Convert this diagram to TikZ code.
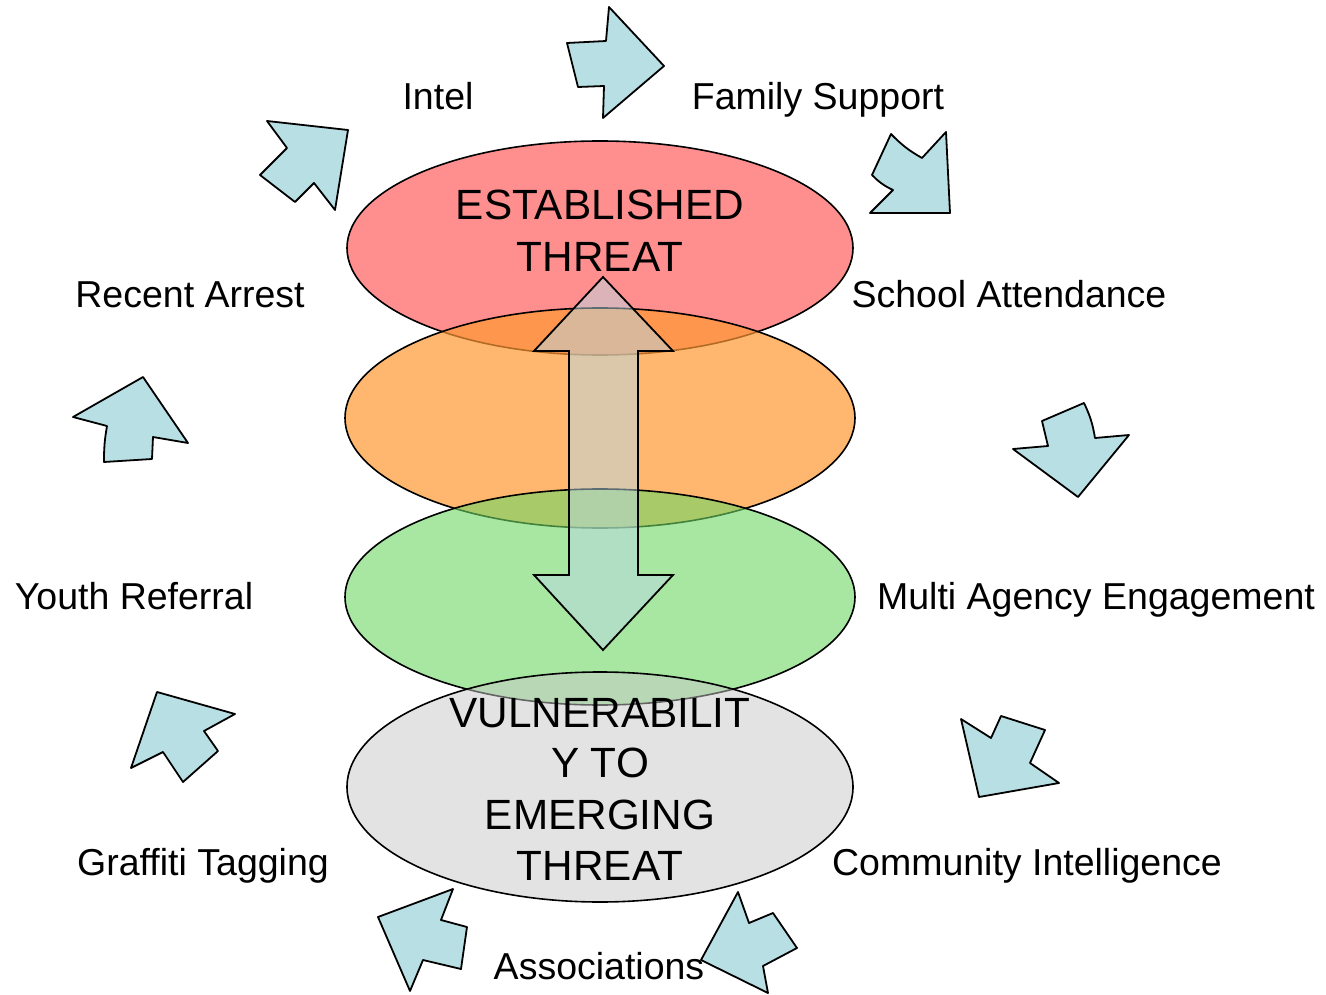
\documentclass[tikz,border=0pt]{standalone}
\usepackage{fontspec}
\setmainfont{Liberation Sans}
\usetikzlibrary{shapes.geometric}
\definecolor{redfill}{RGB}{255,143,143}
\definecolor{orangefill}{RGB}{255,153,51}
\definecolor{greenfill}{RGB}{110,215,100}
\definecolor{grayfill}{RGB}{200,200,200}
\definecolor{bigarrow}{RGB}{185,216,228}
\definecolor{cyclearrow}{RGB}{184,224,228}
\tikzset{
  layer/.style={ellipse, draw=black, line width=1.6pt, minimum width=506pt, minimum height=214pt, inner sep=0pt},
  label/.style={font=\fontsize{37.5}{44}\selectfont, anchor=base, inner sep=0pt},
  title/.style={font=\fontsize{42.3}{52}\selectfont, anchor=base, inner sep=0pt},
  cyc/.style={fill=cyclearrow, draw=black, line width=1.8pt, line join=round},
  dbl/.style={fill=bigarrow, fill opacity=0.5, draw=black, line width=1.8pt, line join=miter}
}
\begin{document}
\begin{tikzpicture}[x=1pt,y=-1pt]
\useasboundingbox (0,0) rectangle (1326,995);
% layers
\node[layer, fill=redfill] (red) at (600,248) {};
\node[layer, fill=orangefill, fill opacity=0.7, minimum width=510pt, minimum height=220pt] (orange) at (600,418) {};
\node[layer, fill=greenfill, fill opacity=0.6, minimum width=510pt, minimum height=216pt] (green) at (600,597) {};
\node[layer, fill=grayfill, fill opacity=0.5, minimum height=230pt] (gray) at (600,787) {};
% double arrow
\draw[dbl] (603,277) -- (673,351) -- (638,351) -- (638,575) -- (673,575) -- (603,650)
  -- (534,575) -- (569,575) -- (569,351) -- (534,351) -- cycle;
% cycle arrows
\draw[cyc] (567,43) -- (606,41) -- (609,7) -- (664,66) -- (603,118) -- (604,86) -- (578,87) -- cycle;
\draw[cyc] (891,134) to[bend right=8] (922,158) -- (946,132) -- (950,213) -- (870,213) -- (893,190) to[bend left=10] (872,175) -- cycle;
\draw[cyc] (1042,421) -- (1084,403) to[bend left=8] (1095,438) -- (1129,435) -- (1078,497) -- (1013,449) -- (1048,446) -- cycle;
\draw[cyc] (961,719) -- (991,738) -- (1001,716) -- (1045,730) -- (1030,763) -- (1059,783) -- (979,797) -- cycle;
\draw[cyc] (738,892) -- (749,923) -- (773,913) -- (797,948) -- (763,966) -- (768,993) -- (701,960) -- cycle;
\draw[cyc] (453,889) -- (441,920) -- (467,927) -- (461,969) -- (423,960) -- (410,991) -- (378,917) -- cycle;
\draw[cyc] (157,692) -- (235,714) -- (204,731) -- (218,751) -- (183,782) -- (163,752) -- (131,768) -- cycle;
\draw[cyc] (143,377) -- (188,443) -- (153,437) -- (152,459) -- (104,462) to[bend left=5] (107,426) -- (73,417) -- cycle;
\draw[cyc] (267,121) -- (348,130) -- (335,210) -- (314,183) -- (295,202) -- (260,175) -- (287,148) -- cycle;
% layer titles
\node[title] (t1) at (600,220) {ESTABLISHED};
\node[title] (t2) at (600,272) {THREAT};
\node[title] (v1) at (600,727) {VULNERABILIT};
\node[title] (v2) at (600,777) {Y TO};
\node[title] (v3) at (600,829) {EMERGING};
\node[title] (v4) at (600,880) {THREAT};
% factor labels
\node[label] (intel) at (438,110) {Intel};
\node[label] (family) at (818,110) {Family Support};
\node[label] (arrest) at (190,307) {Recent Arrest};
\node[label] (school) at (1009,307) {School Attendance};
\node[label] (youth) at (134,609) {Youth Referral};
\node[label] (multi) at (1096,609) {Multi Agency Engagement};
\node[label] (graffiti) at (203,875) {Graffiti Tagging};
\node[label] (community) at (1027,875) {Community Intelligence};
\node[label] (assoc) at (599,979) {Associations};
\end{tikzpicture}
\end{document}
